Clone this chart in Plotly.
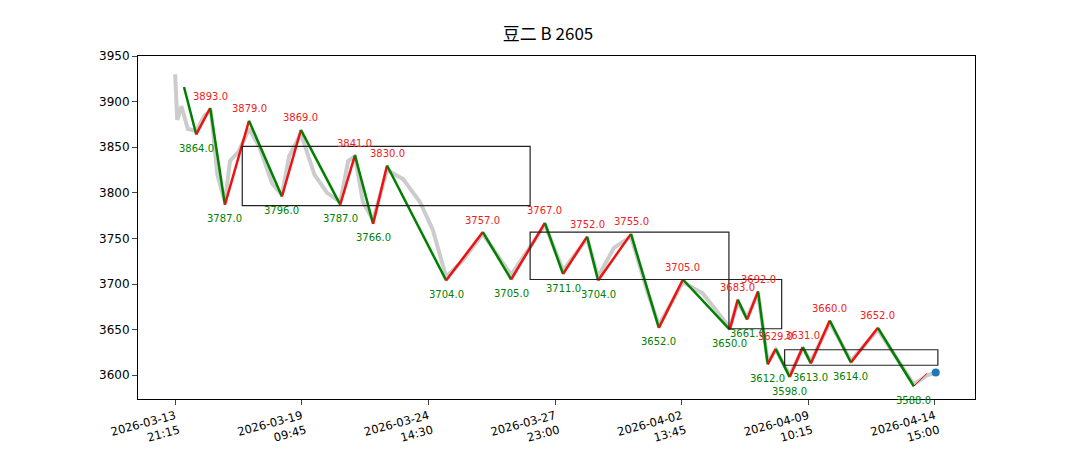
import plotly.graph_objects as go

# bar index / price of zigzag pivots
piv_x = [21, 50, 83, 118, 175, 253, 298, 391, 426, 469, 502, 642, 729, 796, 876, 919, 976,
         1002, 1080, 1146, 1203, 1314, 1333, 1355, 1381, 1404, 1423, 1456, 1487, 1506, 1551,
         1601, 1665, 1750]
piv_y = [3916, 3864, 3893, 3787, 3879, 3796, 3869, 3787, 3841, 3766, 3830, 3704, 3757, 3705,
         3767, 3711, 3752, 3704, 3755, 3652, 3705, 3650, 3683, 3661, 3692, 3612, 3629, 3598,
         3631, 3613, 3660, 3614, 3652, 3588]
tail_x = [1750, 1781]
tail_y = [3588, 3602]
last_x, last_y = 1802, 3603

# close price (rough)
px_x = [0, 5, 15, 30, 50, 70, 85, 100, 118, 130, 150, 175, 200, 230, 253, 270, 298, 330, 360,
        391, 410, 426, 445, 469, 502, 540, 580, 610, 642, 680, 729, 760, 796, 840, 876, 919,
        976, 1002, 1040, 1080, 1120, 1146, 1203, 1250, 1314, 1333, 1355, 1381, 1404, 1423,
        1456, 1487, 1506, 1551, 1601, 1665, 1700, 1750, 1781, 1802]
px_y = [3930, 3880, 3895, 3870, 3868, 3885, 3890, 3820, 3790, 3835, 3845, 3870, 3850, 3810,
        3798, 3840, 3865, 3820, 3800, 3790, 3835, 3840, 3790, 3770, 3825, 3815, 3790, 3760,
        3708, 3725, 3755, 3735, 3710, 3740, 3765, 3715, 3750, 3708, 3740, 3752, 3690, 3655,
        3702, 3690, 3652, 3680, 3663, 3690, 3615, 3628, 3600, 3630, 3615, 3658, 3616, 3650,
        3625, 3590, 3600, 3603]

# central boxes: x0, x1, low, high
boxes = [(159, 841, 3786, 3851), (841, 1312, 3705, 3757), (1312, 1437, 3651, 3705),
         (1444, 1807, 3611, 3628)]

tick_vals = [0, 300, 600, 900, 1200, 1500, 1800]
tick_text = ["2026-03-13<br>21:15", "2026-03-19<br>09:45", "2026-03-24<br>14:30",
             "2026-03-27<br>23:00", "2026-04-02<br>13:45", "2026-04-09<br>10:15",
             "2026-04-14<br>15:00"]

fig = go.Figure()
fig.add_trace(go.Scatter(x=px_x, y=px_y, mode="lines", line=dict(color="#cccccc", width=4)))

for i in range(len(piv_x) - 1):
    up = piv_y[i + 1] > piv_y[i]
    fig.add_trace(go.Scatter(x=piv_x[i:i + 2], y=piv_y[i:i + 2], mode="lines",
                             line=dict(color="#ee1111" if up else "green", width=2.5)))
fig.add_trace(go.Scatter(x=tail_x, y=tail_y, mode="lines", line=dict(color="#ee1111", width=1)))
fig.add_trace(go.Scatter(x=[last_x], y=[last_y], mode="markers",
                         marker=dict(color="#1f77b4", size=8)))

for i in range(1, len(piv_x)):
    if i + 1 < len(piv_x):
        high = piv_y[i] > piv_y[i + 1]
    else:
        high = piv_y[i] > piv_y[i - 1]
    fig.add_annotation(x=piv_x[i], y=piv_y[i], text=f"{piv_y[i]:.1f}", showarrow=False,
                       yshift=12 if high else -14,
                       font=dict(size=10, color="#ee2222" if high else "green"))

for x0, x1, lo, hi in boxes:
    fig.add_shape(type="rect", x0=x0, x1=x1, y0=lo, y1=hi, fillcolor="rgba(0,0,0,0)",
                  opacity=1, line=dict(color="#222222", width=1.2))

fig.update_layout(
    width=1080, height=450, template="simple_white", showlegend=False,
    margin=dict(l=130, r=113, t=48, b=59),
    title=dict(text="豆二 B 2605", x=0.5, y=0.955, font=dict(size=17, family="Noto Sans CJK SC", color="black")),
    font=dict(family="DejaVu Sans", size=12, color="black"),
)
fig.update_xaxes(range=[-88, 1895], tickvals=tick_vals, ticktext=tick_text, tickangle=-15,
                 mirror=True, showline=True, linecolor="black", ticks="outside", automargin=False,
                 tickfont=dict(size=11.5))
fig.update_yaxes(range=[3574, 3950], dtick=50, mirror=True, showline=True,
                 linecolor="black", ticks="outside", automargin=False)
fig.write_html("out.html")
